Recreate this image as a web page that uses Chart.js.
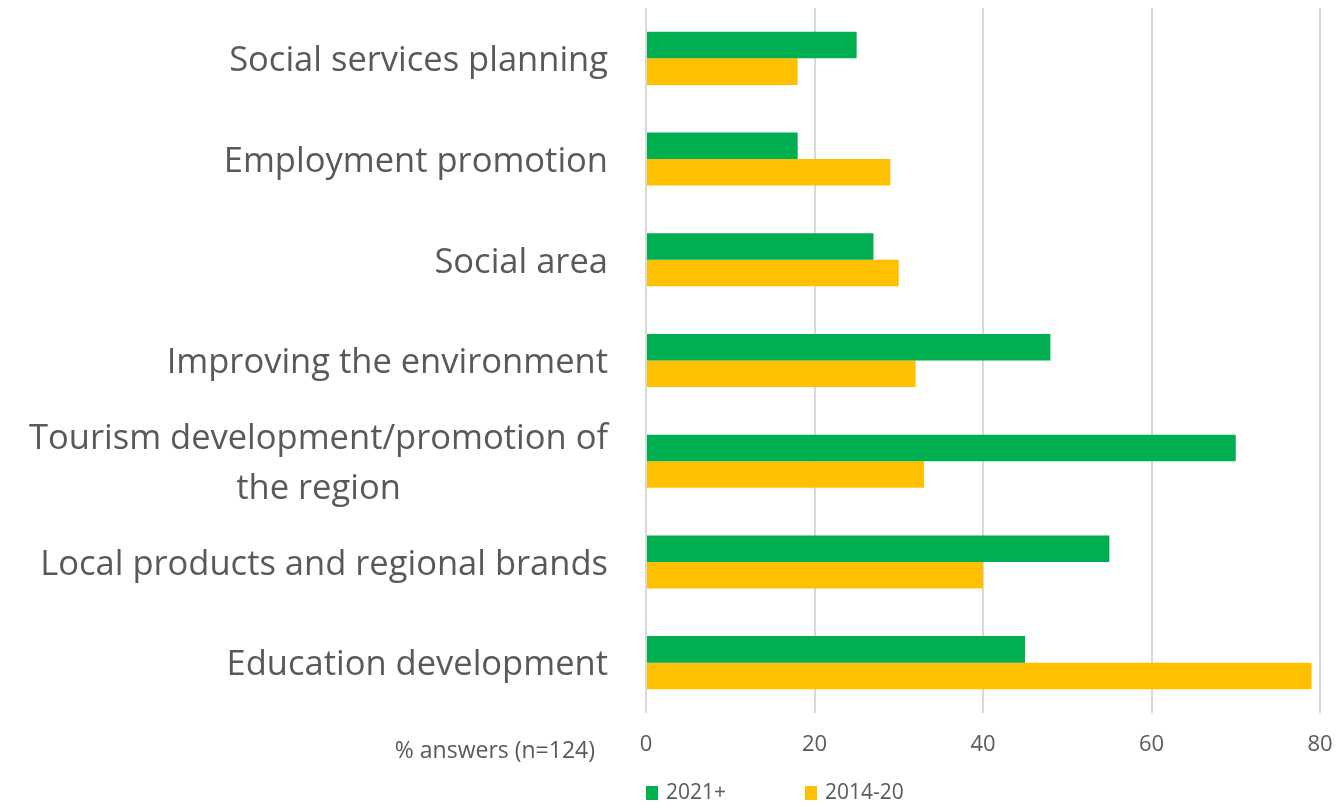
<!DOCTYPE html>
<html>
<head>
<meta charset="utf-8">
<script src="https://cdn.jsdelivr.net/npm/chart.js@4"></script>
<style>
  html, body { margin: 0; padding: 0; background: #ffffff; }
  #wrap { width: 1342px; height: 804px; position: relative; }
</style>
</head>
<body>
<div id="wrap"><canvas id="c" width="1342" height="804"></canvas></div>
<script>
const categories = [
  "Social services planning",
  "Employment promotion",
  "Social area",
  "Improving the environment",
  ["Tourism development/promotion of", "the region"],
  "Local products and regional brands",
  "Education development"
];
const seriesNames = ["2021+", "2014-20"];
const values2021 = [25, 18, 27, 48, 70, 55, 45];
const values2014 = [18, 29, 30, 32, 33, 40, 79];
const seriesColors = ["#00B050", "#FFC000"];
const axisTitle = "% answers (n=124)";
const xMin = 0, xMax = 80, xStep = 20;

const TEXT = "#595959";
const FONT = "'Open Sans', sans-serif";

const customText = {
  id: 'customText',
  afterDraw(chart) {
    const ctx = chart.ctx;
    const yScale = chart.scales.y;
    const area = chart.chartArea;
    ctx.save();
    // Category labels
    ctx.font = "34.5px " + FONT;
    ctx.fillStyle = TEXT;
    ctx.textBaseline = "middle";
    ctx.textAlign = "center";
    const right = area.left - 38;
    const lh = 50;
    chart.data.labels.forEach((lab, i) => {
      const lines = Array.isArray(lab) ? lab : [lab];
      const w = Math.max(...lines.map(l => ctx.measureText(l).width));
      const cx = right - w / 2;
      const yc = yScale.getPixelForTick(i) + 3;
      lines.forEach((l, k) => {
        ctx.fillText(l, cx, yc + (k - (lines.length - 1) / 2) * lh);
      });
    });
    // Axis title (left of tick labels)
    ctx.font = "23px " + FONT;
    ctx.textAlign = "right";
    ctx.fillText(axisTitle, area.left - 51, 751);
    // Legend
    ctx.font = "21px " + FONT;
    const lx = [area.left, area.left + 159];
    chart.data.datasets.forEach((ds, i) => {
      ctx.fillStyle = ds.backgroundColor;
      ctx.fillRect(lx[i], 786, 12, 14);
      ctx.fillStyle = TEXT;
      ctx.textAlign = "left";
      ctx.fillText(ds.label, lx[i] + 20, 793);
    });
    ctx.restore();
  }
};

new Chart(document.getElementById('c'), {
  type: 'bar',
  data: {
    labels: categories,
    datasets: [
      { label: seriesNames[0], data: values2021, backgroundColor: seriesColors[0] },
      { label: seriesNames[1], data: values2014, backgroundColor: seriesColors[1] }
    ]
  },
  options: {
    indexAxis: 'y',
    responsive: false,
    animation: false,
    layout: { padding: { top: 8, right: 22, left: 0, bottom: 0 } },
    datasets: { bar: { categoryPercentage: 0.527, barPercentage: 1.0 } },
    plugins: { legend: { display: false }, tooltip: { enabled: false } },
    scales: {
      x: {
        min: xMin, max: xMax,
        ticks: { stepSize: xStep, color: TEXT, font: { family: FONT, size: 22 }, padding: 0 },
        grid: { color: "#D9D9D9", lineWidth: 2, drawTicks: true, tickLength: 19, tickColor: "rgba(0,0,0,0)" },
        border: { display: false },
        afterFit(s) { s.height = 91; }
      },
      y: {
        ticks: { display: false },
        grid: { display: false, drawTicks: false },
        border: { display: false },
        afterFit(s) { s.width = 646; }
      }
    }
  },
  plugins: [customText]
});
</script>
</body>
</html>
